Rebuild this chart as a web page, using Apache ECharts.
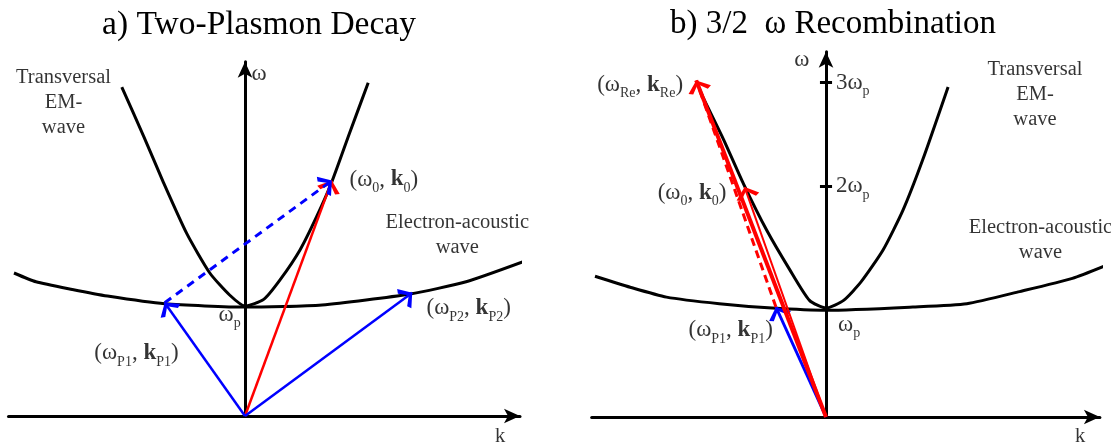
<!DOCTYPE html>
<html>
<head>
<meta charset="utf-8">
<script src="https://cdn.jsdelivr.net/npm/echarts@6/dist/echarts.min.js"></script>
<style>
  html, body { margin: 0; background: #fff; }
  #chart { width: 1111px; height: 448px; }
</style>
</head>
<body>
<div id="chart"></div>
<script>
// units: omega_p = 1 on both axes (k and omega)
var SERIF = '"Liberation Serif", "DejaVu Serif", serif';
var PPU = 110; // px per unit

// panel a) two-plasmon decay
var emWaveA = [[-1.12, 2.99], [-0.92, 2.54], [-0.74, 2.12], [-0.53, 1.66], [-0.32, 1.30], [-0.14, 1.10], [0, 1.0],
  [0.17, 1.06], [0.32, 1.24], [0.50, 1.51], [0.65, 1.81], [0.79, 2.13], [0.95, 2.57], [1.12, 3.03]];
var eaWaveA = [[-2.10, 1.30], [-1.90, 1.22], [-1.57, 1.15], [-1.25, 1.09], [-0.73, 1.02], [0, 0.99],
  [0.70, 1.01], [1.50, 1.11], [2.01, 1.22], [2.55, 1.41]];
var pumpA = [[0, 0], [0.79, 2.14]];
var plasmon1A = [[0, 0], [-0.73, 1.03]];
var plasmon2A = [[0, 0], [1.52, 1.12]];
var sumA = [[-0.73, 1.03], [0.79, 2.14]];

// panel b) 3/2 omega recombination
var emWaveB = [[-1.15, 2.98], [-1.12, 2.91], [-0.93, 2.52], [-0.75, 2.12], [-0.54, 1.70], [-0.33, 1.34], [-0.15, 1.06], [0, 0.99],
  [0.16, 1.06], [0.32, 1.23], [0.52, 1.52], [0.70, 1.88], [0.88, 2.34], [1.11, 3.0]];
var eaWaveB = [[-2.10, 1.28], [-1.78, 1.18], [-1.45, 1.09], [-0.97, 1.03], [-0.49, 0.99], [0.01, 0.97],
  [0.79, 1.00], [1.28, 1.03], [1.76, 1.14], [2.24, 1.26], [2.55, 1.38]];
var recombB = [[0, 0], [-1.18, 3.06]];
var pumpB = [[0, 0], [-0.74, 2.09]];
var plasmon1B = [[0, 0], [-0.455, 1.0]];
var sumB = [[-0.455, 1.0], [-1.18, 3.06]];
var tickValuesB = [2.10, 3.04];
var tickNamesB = ['2', '3'];

// axis extents (k min, k max, omega max) and origin in px
var panels = [
  { ox: 245, oy: 416, kMin: -2.15, kMax: 2.50, wMax: 3.22 },
  { ox: 826, oy: 417, kMin: -2.13, kMax: 2.49, wMax: 3.32 }
];

// open arrow head, tip at centre of the box
var HEAD = 'path://M10,0 L20,14 L16.5,17 L10,6 L3.5,17 L0,14 Z M10,-17 L10,-17';

var rich = {
  n: { fontFamily: SERIF, fontSize: 23, color: '#000', lineHeight: 32, verticalAlign: 'middle' },
  b: { fontFamily: SERIF, fontSize: 23, fontWeight: 'bold', color: '#000', lineHeight: 32, verticalAlign: 'middle' },
  s: { fontFamily: SERIF, fontSize: 14, color: '#000', lineHeight: 32, verticalAlign: 'bottom' },
  m: { fontFamily: SERIF, fontSize: 20.5, color: '#000', lineHeight: 25 }
};

function pair(sub) {
  return '{n|(ω}{s|' + sub + '}{n|, }{b|k}{s|' + sub + '}{n|)}';
}

var labelsA = [
  { at: [0.06, 3.11], text: '{n|ω}', pos: 'right' },
  { at: [-0.14, 0.92], text: '{n|ω}{s|p}', pos: 'inside' },
  { at: [0.95, 2.15], text: pair('0'), pos: 'right' },
  { at: [1.65, 0.98], text: pair('P2'), pos: 'right' },
  { at: [-1.37, 0.57], text: pair('P1'), pos: 'right' },
  { at: [-1.65, 2.85], text: '{m|Transversal}\n{m|EM-}\n{m|wave}', pos: 'inside' },
  { at: [1.93, 1.64], text: '{m|Electron-acoustic}\n{m|wave}', pos: 'inside' },
  { at: [2.32, -0.19], text: '{m|k}', pos: 'inside' }
];
var labelsB = [
  { at: [-0.22, 3.25], text: '{n|ω}', pos: 'inside' },
  { at: [0.11, 0.84], text: '{n|ω}{s|p}', pos: 'right' },
  { at: [-2.08, 3.02], text: pair('Re'), pos: 'right' },
  { at: [-1.53, 2.04], text: pair('0'), pos: 'right' },
  { at: [-1.25, 0.79], text: pair('P1'), pos: 'right' },
  { at: [1.90, 2.93], text: '{m|Transversal}\n{m|EM-}\n{m|wave}', pos: 'inside' },
  { at: [1.95, 1.61], text: '{m|Electron-acoustic}\n{m|wave}', pos: 'inside' },
  { at: [2.31, -0.18], text: '{m|k}', pos: 'inside' }
];
tickValuesB.forEach(function (v, i) {
  labelsB.push({ at: [0.09, v], text: '{n|' + tickNamesB[i] + 'ω}{s|p}', pos: 'right' });
});

var grids = [], xAxes = [], yAxes = [];
panels.forEach(function (p, i) {
  grids.push({
    left: p.ox + p.kMin * PPU,
    width: (p.kMax - p.kMin) * PPU,
    top: p.oy - p.wMax * PPU,
    height: p.wMax * PPU
  });
  var axisLine = {
    onZero: true,
    symbol: ['none', 'arrow'],
    symbolSize: [11, 16],
    lineStyle: { color: '#000', width: 3 }
  };
  xAxes.push({
    gridIndex: i, type: 'value', min: p.kMin, max: p.kMax,
    axisLine: axisLine, axisTick: { show: false }, axisLabel: { show: false }, splitLine: { show: false }
  });
  yAxes.push({
    gridIndex: i, type: 'value', min: 0, max: p.wMax,
    axisLine: axisLine, axisTick: { show: false }, axisLabel: { show: false }, splitLine: { show: false }
  });
});

function curve(gi, data) {
  return {
    type: 'line', xAxisIndex: gi, yAxisIndex: gi, data: data,
    smooth: 0.2, showSymbol: false, clip: false, silent: true, z: 2,
    lineStyle: { color: '#000', width: 3 }
  };
}

function arrow(gi, coords, color, width, type, head) {
  return {
    type: 'lines', coordinateSystem: 'cartesian2d', xAxisIndex: gi, yAxisIndex: gi,
    clip: false, silent: true, z: 3,
    symbol: ['none', head === undefined ? HEAD : head], symbolSize: [14, 24],
    lineStyle: { color: color, width: width, type: type, opacity: 1, curveness: 0 },
    data: [{ coords: coords }]
  };
}

function texts(gi, list) {
  return {
    type: 'scatter', xAxisIndex: gi, yAxisIndex: gi, symbolSize: 0, clip: false, silent: true, z: 5,
    data: list.map(function (l) {
      return {
        value: l.at,
        label: { show: true, position: l.pos, distance: 0, formatter: l.text, rich: rich }
      };
    })
  };
}

var series = [
  curve(0, emWaveA), curve(0, eaWaveA),
  arrow(0, pumpA, '#ff0000', 2.5, 'solid'),
  arrow(0, plasmon1A, '#0000ff', 2.5, 'solid'),
  arrow(0, plasmon2A, '#0000ff', 2.5, 'solid'),
  arrow(0, sumA, '#0000ff', 3, [8, 6]),
  texts(0, labelsA),

  curve(1, emWaveB), curve(1, eaWaveB),
  arrow(1, plasmon1B, '#0000ff', 3, 'solid'),
  arrow(1, sumB, '#ff0000', 3, [8, 5], 'none'),
  arrow(1, pumpB, '#ff0000', 2, 'solid'),
  arrow(1, recombB, '#ff0000', 4, 'solid'),
  {
    type: 'lines', coordinateSystem: 'cartesian2d', xAxisIndex: 1, yAxisIndex: 1,
    clip: false, silent: true, z: 3,
    lineStyle: { color: '#000', width: 3, opacity: 1 },
    data: tickValuesB.map(function (v) { return { coords: [[-0.055, v], [0.055, v]] }; })
  },
  texts(1, labelsB)
];

var chart = echarts.init(document.getElementById('chart'));
chart.setOption({
  backgroundColor: '#fff',
  animation: false,
  title: [
    { text: 'a) Two-Plasmon Decay', left: 254, top: 3, textAlign: 'center',
      textStyle: { fontFamily: SERIF, fontSize: 33.5, fontWeight: 'normal', color: '#000' } },
    { text: 'b) 3/2  ω Recombination', left: 828, top: 3, textAlign: 'center',
      textStyle: { fontFamily: SERIF, fontSize: 33, fontWeight: 'normal', color: '#000' } }
  ],
  grid: grids,
  xAxis: xAxes,
  yAxis: yAxes,
  series: series
});
</script>
</body>
</html>
